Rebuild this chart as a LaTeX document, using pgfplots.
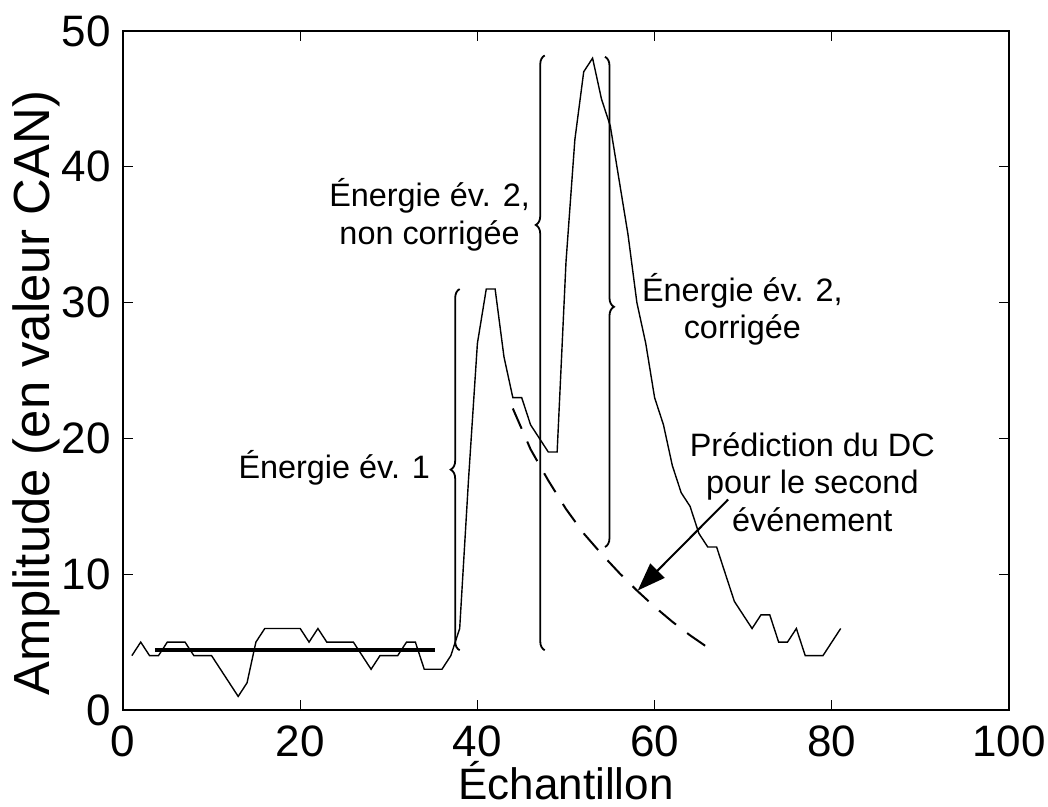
\documentclass[border=0pt]{standalone}
\usepackage{fontspec}
\setmainfont{Liberation Sans}
\usepackage{pgfplots}
\pgfplotsset{compat=1.18}
\usetikzlibrary{decorations.pathreplacing,arrows.meta}
\newcommand\annot{\fontsize{16.2}{18.8}\selectfont}
\begin{document}
\begin{tikzpicture}
\begin{axis}[
  scale only axis,
  width=443pt, height=339.5pt,
  xmin=0, xmax=100, ymin=0, ymax=50,
  xtick={0,20,...,100}, ytick={0,10,...,50},
  /pgf/number format/assume math mode=true,
  tick label style={font=\fontsize{22}{26}\selectfont},
  xticklabel style={anchor=north, inner sep=0pt, yshift=-7.5pt},
  yticklabel style={anchor=east, inner sep=0pt, xshift=-6pt},
  major tick length=5pt,
  tick style={black, line width=0.6pt},
  axis line style={line width=0.8pt},
  xlabel={Échantillon},
  ylabel={Amplitude (en valeur CAN)},
  every axis x label/.style={at={(axis description cs:0.5,0)}, anchor=base, yshift=-45pt, font=\fontsize{22}{26}\selectfont},
  every axis y label/.style={at={(axis description cs:0,0.467)}, rotate=90, anchor=base, yshift=36.5pt, font=\fontsize{25.4}{30}\selectfont},
  clip=false,
]
% signal
\addplot[black, line width=0.7pt] coordinates {
(1,4)(2,5)(3,4)(4,4)(5,5)(6,5)(7,5)(8,4)(9,4)(10,4)(11,3)(12,2)(13,1)(14,2)(15,5)
(16,6)(17,6)(18,6)(19,6)(20,6)(21,5)(22,6)(23,5)(24,5)(25,5)(26,5)(27,4)(28,3)(29,4)
(30,4)(31,4)(32,5)(33,5)(34,3)(35,3)(36,3)(37,4)(38,6)(39,17)(40,27)(41,31)(42,31)
(43,26)(44,23)(45,23)(46,21)(47,20)(48,19)(49,19)(50,33)(51,42)(52,47)(53,48)(54,45)
(55,43)(56,39)(57,35)(58,30)(59,27)(60,23)(61,21)(62,18)(63,16)(64,15)(65,13)(66,12)
(67,12)(68,10)(69,8)(70,7)(71,6)(72,7)(73,7)(74,5)(75,5)(76,6)(77,4)(78,4)(79,4)
(80,5)(81,6)
};
% baseline mean
\addplot[black, line width=2pt] coordinates {(3.6,4.4)(35.2,4.4)};
% DC prediction
\addplot[black, line width=1pt, dash pattern=on 11pt off 7pt] coordinates {
(44,22.2)(46,19.2)(48,16.9)(50,14.8)(52,13.0)(54,11.5)(56,10.1)(58,8.8)(60,7.6)
(62,6.5)(64,5.5)(66,4.6)(67,4.2)
};
% braces
\draw[line width=0.9pt, decorate, decoration={brace, amplitude=4.5pt, aspect=0.5}]
  (axis cs:38,4.4) -- (axis cs:38,31.0);
\draw[line width=0.9pt, decorate, decoration={brace, amplitude=4.5pt, aspect=0.715}]
  (axis cs:47.6,4.4) -- (axis cs:47.6,48.2);
\draw[line width=0.9pt, decorate, decoration={brace, amplitude=4.5pt, aspect=0.51}]
  (axis cs:54.4,48.1) -- (axis cs:54.4,12.0);
% arrow
\draw[line width=1pt, -{Triangle[length=14pt, width=10pt]}]
  (axis cs:68.3,15.5) -- (axis cs:58.1,8.8);
% annotations
\node[anchor=east, inner sep=0pt, font=\annot] at (axis cs:34.7,17.8) {Énergie év. 1};
\node[align=center, inner sep=0pt, font=\annot] at (axis cs:34.6,36.45) {Énergie év. 2,\\non corrigée};
\node[align=center, inner sep=0pt, font=\annot] at (axis cs:69.9,29.5) {Énergie év. 2,\\corrigée};
\node[align=center, inner sep=0pt, font=\annot] at (axis cs:77.8,16.8) {Prédiction du DC\\pour le second\\événement};
\end{axis}
\pgfresetboundingbox
\path (-61.5pt,-48.5pt) rectangle (462.5pt,355pt);
\end{tikzpicture}
\end{document}
